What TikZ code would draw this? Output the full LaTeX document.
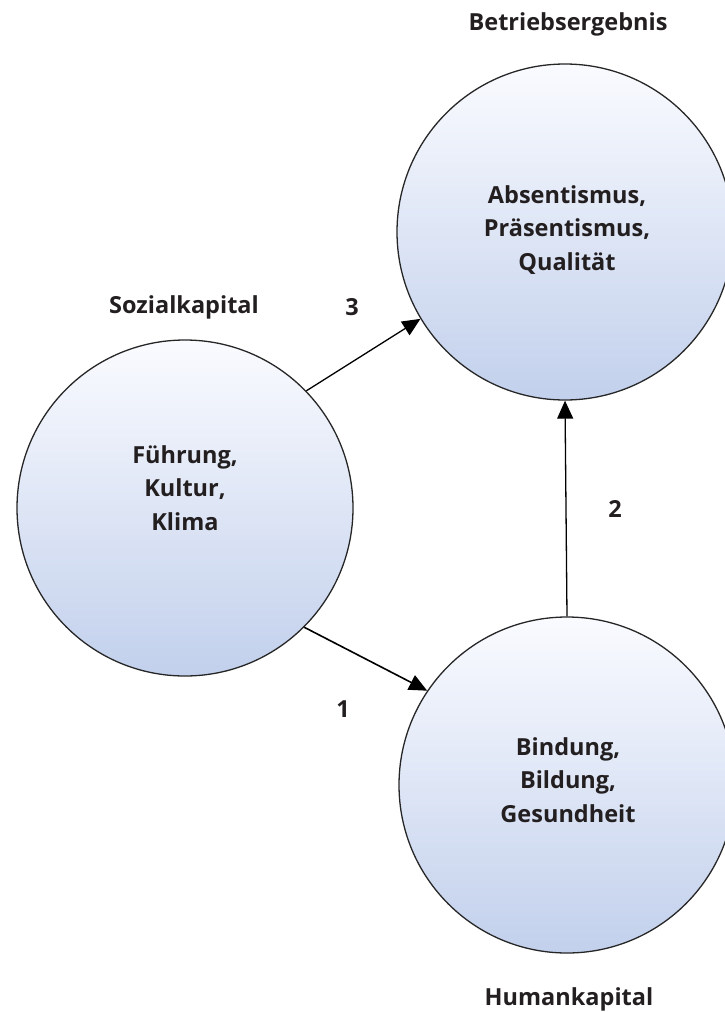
\documentclass[tikz,border=0pt]{standalone}
\usepackage{fontspec}
\setmainfont{Open Sans}
\usetikzlibrary{arrows.meta}
\definecolor{circbot}{RGB}{194,208,236}
\definecolor{circtop}{RGB}{250,251,255}
\definecolor{txt}{RGB}{35,31,32}
\tikzset{
  bubble/.style={circle, draw=black!85, line width=1.3pt, minimum size=336pt, inner sep=0pt,
    top color=circtop, bottom color=circbot},
  lbl/.style={font=\bfseries\fontsize{23.5}{33.5}\selectfont, text=txt, inner sep=0pt, align=center},
  arr/.style={line width=1.3pt, -{Triangle[length=18pt,width=16pt]}}
}
\begin{document}
\begin{tikzpicture}[x=1pt,y=-1pt]
\useasboundingbox (0,0) rectangle (724,1012);
% circles
\node[bubble] (T) at (565,232) {};
\node[bubble] (L) at (185,508) {};
\node[bubble] (B) at (567,785) {};
% circle texts
\node[lbl, anchor=north] (tT) at (567,185) {Absentismus,\\Präsentismus,\\Qualität};
\node[lbl, anchor=north] (tL) at (185,445) {Führung,\\Kultur,\\Klima};
\node[lbl, anchor=north] (tB) at (568,737) {Bindung,\\Bildung,\\Gesundheit};
% titles
\node[lbl, anchor=base] (hT) at (568,30) {Betriebsergebnis};
\node[lbl, anchor=base] (hL) at (184,313) {Sozialkapital};
\node[lbl, anchor=base] (hB) at (569,1005) {Humankapital};
% numbers
\node[lbl, anchor=base] (n3) at (352,315) {3};
\node[lbl, anchor=base] (n2) at (615,517) {2};
\node[lbl, anchor=base] (n1) at (343,717) {1};
% arrows
\draw[arr] (L.44.5) -- (T.211.5);
\draw[arr, line width=1.6pt] (L.315.7) -- (B.146.8);
\draw[arr] (B.north) -- (T.south);
\end{tikzpicture}
\end{document}
